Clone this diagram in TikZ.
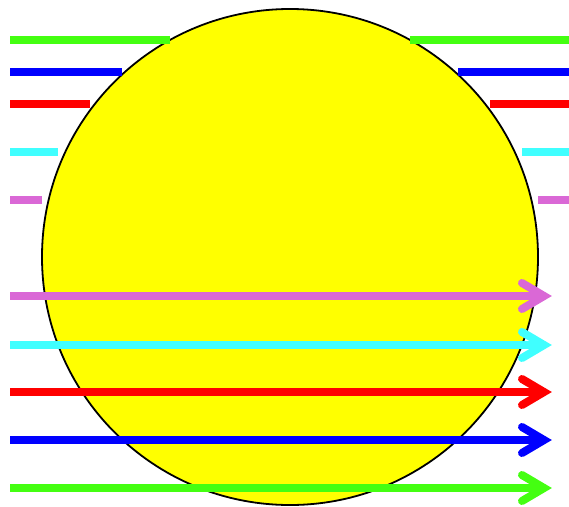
\documentclass[tikz,border=0pt]{standalone}
\definecolor{cgreen}{RGB}{68,255,17}
\definecolor{cblue}{RGB}{0,0,255}
\definecolor{cred}{RGB}{255,0,0}
\definecolor{ccyan}{RGB}{64,255,255}
\definecolor{cmag}{RGB}{218,104,214}
\definecolor{cyel}{RGB}{255,255,0}
\tikzset{ray/.style={line width=8pt},
  chevron/.style={line width=8pt,line cap=round,line join=miter}}
\begin{document}
\begin{tikzpicture}[x=1pt,y=-1pt]
\useasboundingbox (0,0) rectangle (569,506);
\draw[line width=1.8pt,fill=cyel] (290,257) circle[radius=248];
% top segments
\foreach \y/\d/\c in {40/120/cgreen,72/168/cblue,104/200/cred,152/232/ccyan,200/248/cmag}{
  \draw[ray,\c] (10,\y) -- ({290-\d},\y);
  \draw[ray,\c] ({290+\d},\y) -- (569,\y);
}
% arrows
\foreach \y/\c in {296/cmag,345/ccyan,392/cred,440/cblue,488/cgreen}{
  \draw[ray,\c] (10,\y) -- (542,\y);
  \draw[chevron,\c] (522,{\y-13}) -- (544,\y) -- (522,{\y+13});
}
\end{tikzpicture}
\end{document}
